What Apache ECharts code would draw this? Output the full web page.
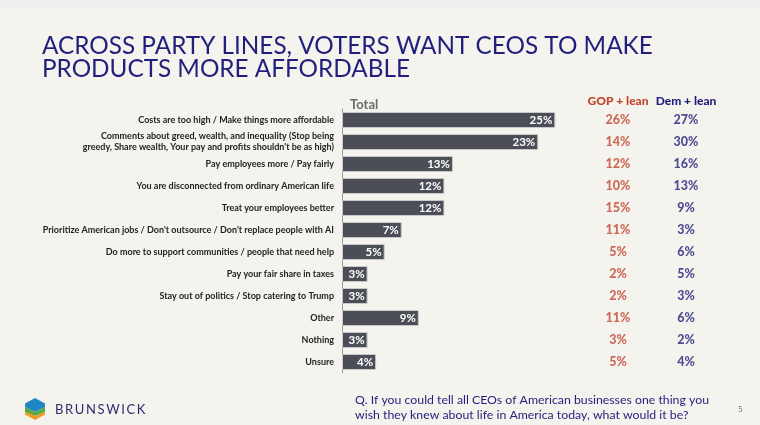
<!DOCTYPE html>
<html>
<head>
<meta charset="utf-8">
<script src="https://cdn.jsdelivr.net/npm/echarts@6/dist/echarts.min.js"></script>
<style>
  html, body { margin: 0; padding: 0; background: #f5f3ee; }
  #main { width: 760px; height: 425px; }
</style>
</head>
<body>
<div id="main"></div>
<script>
// answers, top to bottom
var categories = [
    'Costs are too high / Make things more affordable',
    'Comments about greed, wealth, and inequality (Stop being\ngreedy, Share wealth, Your pay and profits shouldn\'t be as high)',
    'Pay employees more / Pay fairly',
    'You are disconnected from ordinary American life',
    'Treat your employees better',
    'Prioritize American jobs / Don\'t outsource / Don\'t replace people with AI',
    'Do more to support communities / people that need help',
    'Pay your fair share in taxes',
    'Stay out of politics / Stop catering to Trump',
    'Other',
    'Nothing',
    'Unsure'
];
var totalValues = [25, 23, 13, 12, 12, 7, 5, 3, 3, 9, 3, 4];
var gopValues = [26, 14, 12, 10, 15, 11, 5, 2, 2, 11, 3, 5];
var demValues = [27, 30, 16, 13, 9, 3, 6, 5, 3, 6, 2, 4];
var groupLabels = ['GOP + lean', 'Dem + lean'];

var myChart = echarts.init(document.getElementById('main'));

var navy = '#211f7c';
var red = '#c2452f';

// party columns as text points: [column, row, value]
function columnData(values, col) {
    return values.map(function (v, i) { return [col, i, v]; });
}

function partySeries(name, values, col, color) {
    return {
        name: name,
        type: 'scatter',
        xAxisIndex: 1, yAxisIndex: 1,
        data: columnData(values, col),
        symbolSize: 1,
        itemStyle: { color: 'rgba(0,0,0,0)' },
        label: {
            show: true, position: 'inside',
            color: color, fontSize: 12.5, fontWeight: 900,
            formatter: function (p) { return p.value[2] + '%'; }
        }
    };
}

myChart.setOption({
    backgroundColor: '#f5f3ee',
    textStyle: { fontFamily: 'Lato' },
    title: [
        {
            text: 'ACROSS PARTY LINES, VOTERS WANT CEOS TO MAKE\nPRODUCTS MORE AFFORDABLE',
            left: 37,
            top: 30,
            textStyle: { color: navy, fontSize: 24.3, fontWeight: 'normal', lineHeight: 23, fontFamily: 'Lato' }
        },
        {
            text: 'Total',
            left: 345,
            top: 93,
            textStyle: { color: '#6a6a6a', fontSize: 13, fontWeight: 'bold' }
        }
    ],
    graphic: [
        { type: 'rect', shape: { x: 0, y: 0, width: 760, height: 9 }, style: { fill: '#efefef' } },
        // logo
        { type: 'polygon', shape: { points: [[35, 398], [45, 403.5], [45, 407], [35, 412], [25, 407], [25, 403.5]] }, style: { fill: '#1f86c6' } },
        { type: 'polygon', shape: { points: [[25, 407], [35, 412], [45, 407], [45, 412], [35, 416], [25, 412]] }, style: { fill: '#5aa846' } },
        { type: 'polygon', shape: { points: [[25, 412], [35, 416], [45, 412], [45, 414.5], [35, 420], [25, 414.5]] }, style: { fill: '#f29a1f' } },
        {
            type: 'text', left: 55, top: 403,
            style: { text: 'B\u2009R\u2009U\u2009N\u2009S\u2009W\u2009I\u2009C\u2009K', fill: '#2e2c6e', font: '13px Lato' }
        },
        {
            type: 'text', right: 51, top: 393,
            style: {
                text: 'Q. If you could tell all CEOs of American businesses one thing you\nwish they knew about life in America today, what would it be?',
                fill: navy, font: '12.3px Lato', align: 'right', lineHeight: 14.5
            }
        },
        {
            type: 'text', left: 738, top: 405,
            style: { text: '5', fill: '#777', font: '8px Lato' }
        }
    ],
    grid: [
        { left: 342, right: 162, top: 109, bottom: 52 },
        { left: 584, right: 40, top: 109, bottom: 52 }
    ],
    xAxis: [
        {
            gridIndex: 0, type: 'value', min: 0, max: 30,
            show: false
        },
        {
            gridIndex: 1, type: 'category', data: groupLabels, position: 'top',
            axisLine: { show: false }, axisTick: { show: false },
            axisLabel: {
                interval: 0, margin: 2, fontSize: 12, fontWeight: 900,
                formatter: function (v, i) { return i === 0 ? '{g|' + v + '}' : '{d|' + v + '}'; },
                rich: {
                    g: { color: red, fontSize: 12, fontWeight: 900 },
                    d: { color: navy, fontSize: 12, fontWeight: 900 }
                }
            }
        }
    ],
    yAxis: [
        {
            gridIndex: 0, type: 'category', data: categories, inverse: true,
            axisLine: { show: true, lineStyle: { color: '#9a9a9a', width: 1 } },
            axisTick: { show: false },
            axisLabel: {
                color: '#222', fontSize: 9, fontWeight: 'bold', margin: 8,
                align: 'right', lineHeight: 11
            }
        },
        {
            gridIndex: 1, type: 'category', data: categories, inverse: true,
            show: false
        }
    ],
    series: [
        {
            name: 'Total',
            type: 'bar',
            xAxisIndex: 0, yAxisIndex: 0,
            data: totalValues,
            barWidth: 16,
            itemStyle: { color: '#4b4e56', borderColor: '#c9c9c9', borderWidth: 1 },
            label: {
                show: true, position: 'insideRight', distance: 3,
                color: '#fff', fontSize: 11.5, fontWeight: 'bold',
                formatter: '{c}%'
            }
        },
        partySeries('GOP + lean', gopValues, 0, red),
        partySeries('Dem + lean', demValues, 1, navy)
    ]
});
</script>
</body>
</html>
